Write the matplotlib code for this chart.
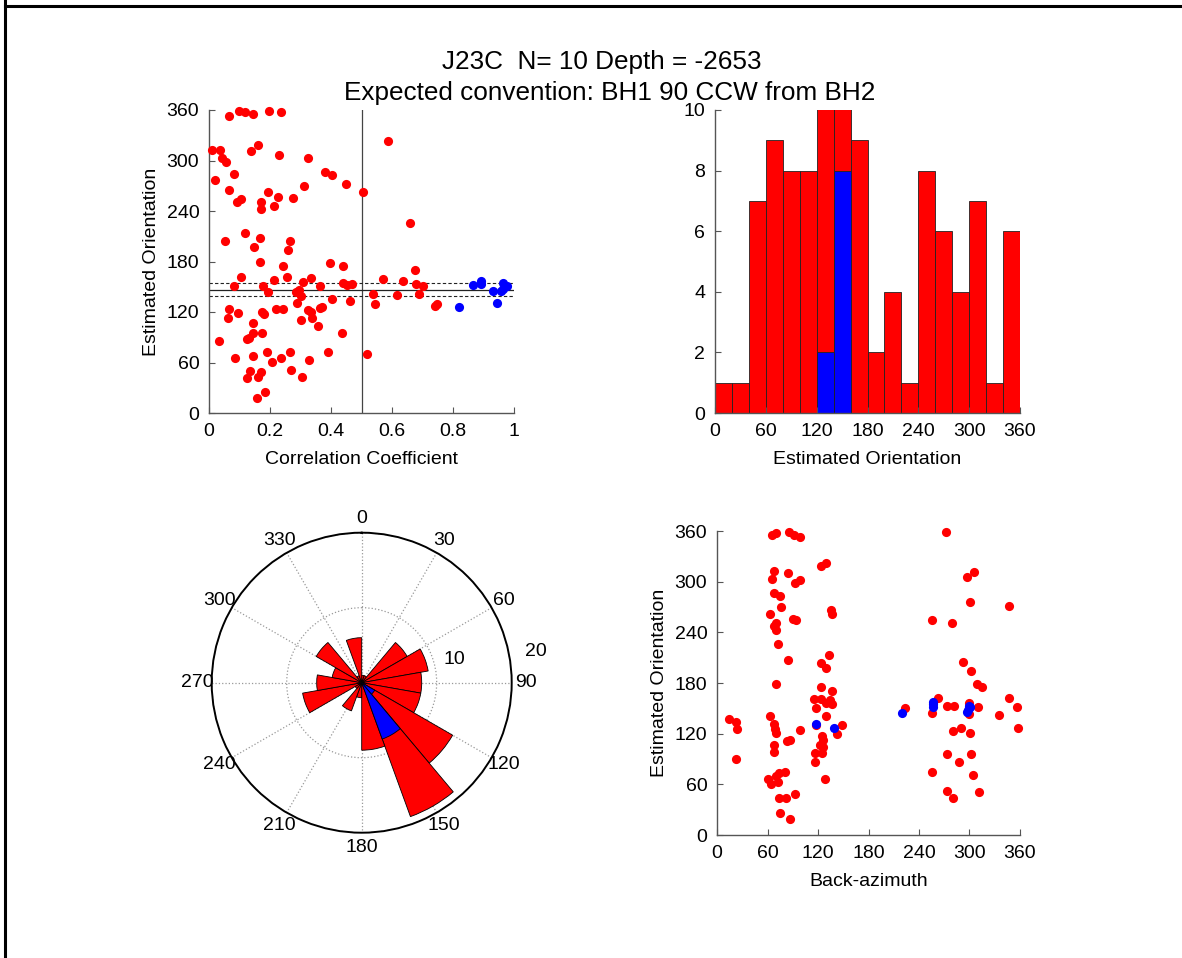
import numpy as np
import matplotlib
matplotlib.use("Agg")
import matplotlib.pyplot as plt
from matplotlib.lines import Line2D

plt.rcParams['font.family'] = ['Liberation Sans', 'DejaVu Sans']

# --- data ---
# top-left: correlation coefficient vs estimated orientation
cc_red = [0.064, 0.099, 0.118, 0.143, 0.197, 0.237,
          0.011, 0.036, 0.044, 0.057, 0.162, 0.139, 0.228, 0.326,
          0.082, 0.020, 0.064, 0.380, 0.404, 0.450, 0.3125, 0.195, 0.227, 0.277, 0.504,
          0.091, 0.104, 0.171, 0.171, 0.214,
          0.587, 0.658,
          0.118, 0.053, 0.168, 0.266, 0.146, 0.259,
          0.168, 0.397, 0.439, 0.243, 0.674,
          0.105, 0.214, 0.255, 0.336, 0.570, 0.636, 0.307, 0.439, 0.469, 0.452,
          0.364, 0.178, 0.083, 0.680, 0.702,
          0.296, 0.285, 0.193, 0.537, 0.616, 0.689, 0.302, 0.404, 0.461, 0.543,
          0.289, 0.740, 0.748,
          0.064, 0.221, 0.241, 0.323, 0.336, 0.173, 0.181, 0.094, 0.0625, 0.303,
          0.338, 0.363, 0.371,
          0.143, 0.359, 0.435, 0.145, 0.173, 0.132, 0.123, 0.033,
          0.265, 0.391, 0.189, 0.145, 0.518, 0.084, 0.237, 0.206, 0.329,
          0.135, 0.125, 0.160, 0.172, 0.269, 0.306, 0.183, 0.159]
or_cc_red = [353.3, 359.2, 357.2, 355.2, 359.2, 358.0,
             312.9, 312.9, 302.6, 298.6, 318.8, 311.7, 306.5, 303.0,
             284.0, 276.8, 265.3, 286.7, 283.2, 271.7, 270.1, 262.2, 257.0, 255.4, 262.2,
             251.1, 254.3, 251.1, 242.4, 245.5,
             322.8, 225.7,
             213.9, 204.0, 207.5, 204.0, 196.8, 194.0,
             179.0, 178.2, 174.3, 174.3, 169.9,
             161.2, 158.4, 161.2, 160.4, 159.2, 156.8, 155.2, 154.0, 153.3, 152.5,
             151.3, 151.3, 150.5, 152.9, 150.5,
             146.1, 143.4, 143.4, 141.8, 140.2, 141.0, 139.4, 135.4, 132.7, 129.9,
             130.7, 126.7, 129.5,
             123.6, 123.6, 123.6, 122.4, 119.6, 120.4, 117.2, 118.8, 112.5, 110.5,
             112.9, 124.8, 126.3,
             106.5, 103.8, 95.0, 95.0, 95.0, 88.7, 87.9, 85.1,
             72.9, 72.9, 72.9, 68.1, 70.1, 65.0, 65.0, 60.2, 63.0,
             49.9, 42.0, 43.2, 48.3, 51.5, 43.2, 25.3, 17.4]
cc_blue = [0.819, 0.866, 0.893, 0.893, 0.932, 0.945, 0.959, 0.965, 0.965, 0.978]
or_cc_blue = [125.9, 152.1, 156.4, 153.3, 144.6, 130.7, 144.6, 154.5, 147.3, 151.3]

# reference lines in the top-left panel
split_cc = 0.5
mean_orient = 146.5
orient_band = [139.0, 154.1]

# bottom-right: back-azimuth vs estimated orientation
baz_red = [14.3, 23.0, 23.8, 23.0,
           65.4, 70.6, 85.6, 91.2, 98.3, 67.8, 65.8, 84.5, 67.8, 75.3, 76.5, 92.8, 99.1,
           62.6, 69.8, 67.4, 70.6, 90.4, 94.4, 73.0, 84.5, 69.8, 62.6, 67.4, 68.6, 69.8,
           68.2, 68.2, 83.7, 87.2, 98.3, 60.7, 64.7, 73.0, 69.8, 73.8, 80.5, 73.8, 81.7,
           92.8, 74.5, 86.4,
           124.1, 130.0, 136.0, 137.2, 123.3, 132.8, 130.0, 123.3, 137.2, 115.0, 117.4,
           124.1, 130.0, 134.0, 136.8, 129.3, 118.2, 125.3, 126.1, 122.1, 126.1, 116.2,
           125.3, 116.2, 128.5, 142.0, 148.7,
           223.7, 255.4, 262.9, 255.0, 278.7, 272.0, 273.6, 281.9, 279.9, 289.4, 273.6,
           287.9, 255.4, 272.8, 280.7, 292.6, 301.3, 296.6, 305.7, 300.6, 308.5, 314.4,
           299.4, 299.4, 300.6, 301.7, 303.7, 311.7, 310.5, 335.0, 346.6, 346.6, 356.9, 358.0]
or_baz_red = [136.8, 134.1, 125.0, 89.5,
              355.7, 357.6, 358.8, 354.9, 352.9, 312.7, 302.8, 310.7, 286.7, 282.7, 270.1,
              298.5, 302.4,
              262.2, 251.2, 247.2, 243.3, 256.3, 254.3, 225.9, 207.8, 179.4, 141.2, 131.3,
              125.0, 121.1,
              106.5, 98.6, 111.2, 112.4, 123.8, 65.9, 60.3, 63.1, 70.2, 73.7, 74.5, 43.4, 43.4,
              48.5, 26.4, 18.5,
              318.6, 322.6, 267.0, 262.2, 203.9, 213.7, 197.2, 174.7, 170.3, 160.9, 150.6,
              160.5, 155.8, 159.7, 154.6, 140.8, 130.1, 117.1, 112.4, 106.1, 103.7, 96.6,
              96.6, 86.0, 66.6, 119.5, 130.1,
              150.2, 143.9, 161.7, 255.1, 251.2, 358.4, 152.6, 152.6, 123.4, 126.2, 95.4,
              86.8, 74.1, 52.1, 44.2, 204.3, 194.4, 305.6, 311.9, 276.0, 178.6, 175.5,
              156.5, 142.7, 121.1, 96.2, 70.6, 50.5, 151.0, 142.4, 270.9, 161.7, 151.8, 126.2]
baz_blue = [118.2, 138.8, 220.1, 256.1, 256.1, 257.0, 300.6, 296.6, 298.0, 299.5]
or_baz_blue = [131.3, 126.2, 144.7, 155.4, 151.8, 157.0, 151.0, 145.9, 148.0, 153.0]

# orientation histogram (20 deg bins); all events and the selected (blue) ones
bin_edges = np.arange(0, 361, 20)
all_counts = [1, 1, 7, 9, 8, 8, 14, 19, 9, 2, 4, 1, 8, 6, 4, 7, 1, 6]
sel_counts = [0, 0, 0, 0, 0, 0, 2, 8, 0, 0, 0, 0, 0, 0, 0, 0, 0, 0]

title_lines = ["J23C  N= 10 Depth = -2653", "Expected convention: BH1 90 CCW from BH2"]

RED = '#ff0000'
BLUE = '#0000ff'
AXC = '#555555'
W, H = 1182, 958
TICK_FS = 14
LABEL_FS = 14
MS = 6.6


def px_axes(fig, x0, y0, x1, y1, **kw):
    # pixel box (top-left origin) -> figure fraction
    return fig.add_axes([x0 / W, 1 - y1 / H, (x1 - x0) / W, (y1 - y0) / H], **kw)


def style_cart(ax):
    for s in ['top', 'right']:
        ax.spines[s].set_visible(False)
    for s in ['left', 'bottom']:
        ax.spines[s].set_color(AXC)
        ax.spines[s].set_linewidth(1.0)
    ax.tick_params(direction='in', length=4, color=AXC, labelsize=TICK_FS, pad=7)


fig = plt.figure(figsize=(W / 100, H / 100), dpi=100)

# ---- top-left: correlation vs orientation ----
ax1 = px_axes(fig, 209, 110, 514, 413)
ax1.plot(cc_red, or_cc_red, 'o', color=RED, ms=MS, mec='none', zorder=3, clip_on=False)
ax1.plot(cc_blue, or_cc_blue, 'o', color=BLUE, ms=MS, mec='none', zorder=3, clip_on=False)
ax1.axvline(split_cc, color='#444444', lw=0.9, zorder=2)
ax1.axhline(mean_orient, color='#222222', lw=0.9, zorder=2)
for v in orient_band:
    ax1.axhline(v, color='#222222', lw=0.8, ls='--', dashes=(3, 2), zorder=2)
ax1.set_xlim(0, 1)
ax1.set_ylim(0, 360)
ax1.set_xticks([0, 0.2, 0.4, 0.6, 0.8, 1])
ax1.set_xticklabels(['0', '0.2', '0.4', '0.6', '0.8', '1'])
ax1.set_yticks(np.arange(0, 361, 60))
ax1.set_xlabel('Correlation Coefficient', fontsize=LABEL_FS, labelpad=8)
ax1.set_ylabel('Estimated Orientation', fontsize=LABEL_FS, labelpad=5)
style_cart(ax1)

# ---- top-right: histogram ----
ax2 = px_axes(fig, 715, 110, 1020, 413)
ax2.bar(bin_edges[:-1], all_counts, width=20, align='edge', color=RED,
        edgecolor='#222222', lw=0.6)
ax2.bar(bin_edges[:-1], sel_counts, width=20, align='edge', color=BLUE,
        edgecolor='#222222', lw=0.6)
ax2.set_xlim(0, 360)
ax2.set_ylim(0, 10)
ax2.set_xticks(np.arange(0, 361, 60))
ax2.set_yticks(np.arange(0, 11, 2))
ax2.set_xlabel('Estimated Orientation', fontsize=LABEL_FS, labelpad=8)
style_cart(ax2)

# ---- bottom-left: rose diagram ----
cx, cy, R = 361.7, 682.7, 150
ax3 = px_axes(fig, cx - R, cy - R, cx + R, cy + R, projection='polar')
ax3.set_theta_zero_location('N')
ax3.set_theta_direction(-1)
theta = np.deg2rad(bin_edges[:-1])
ax3.bar(theta, all_counts, width=np.deg2rad(20), align='edge', color=RED,
        edgecolor='black', lw=0.6, zorder=3)
ax3.bar(theta, sel_counts, width=np.deg2rad(20), align='edge', color=BLUE,
        edgecolor='black', lw=0.6, zorder=3)
ax3.set_ylim(0, 20)
ax3.set_yticks([10, 20])
ax3.set_yticklabels([])
ax3.set_xticks(np.deg2rad(np.arange(0, 360, 30)))
ax3.set_xticklabels([str(a) for a in range(0, 360, 30)], fontsize=TICK_FS)
ax3.tick_params(axis='x', pad=0)
ax3.grid(True, color='#999999', ls=':', lw=0.9)
ax3.spines['polar'].set_color('black')
ax3.spines['polar'].set_linewidth(1.4)
ax3.text(np.deg2rad(76), 12.7, '10', fontsize=TICK_FS, ha='center', va='center')
ax3.text(np.deg2rad(80), 23.6, '20', fontsize=TICK_FS, ha='center', va='center')

# ---- bottom-right: back-azimuth vs orientation ----
ax4 = px_axes(fig, 717, 531, 1020, 835)
ax4.plot(baz_red, or_baz_red, 'o', color=RED, ms=MS, mec='none', zorder=3, clip_on=False)
ax4.plot(baz_blue, or_baz_blue, 'o', color=BLUE, ms=MS, mec='none', zorder=3, clip_on=False)
ax4.set_xlim(0, 360)
ax4.set_ylim(0, 360)
ax4.set_xticks(np.arange(0, 361, 60))
ax4.set_yticks(np.arange(0, 361, 60))
ax4.set_xlabel('Back-azimuth', fontsize=LABEL_FS, labelpad=8)
ax4.set_ylabel('Estimated Orientation', fontsize=LABEL_FS, labelpad=5)
style_cart(ax4)

# ---- titles and frame ----
fig.text(602 / W, 1 - 62 / H, title_lines[0], fontsize=18.8, ha='center', va='center')
fig.text(610 / W, 1 - 93 / H, title_lines[1], fontsize=18.8, ha='center', va='center')
fig.add_artist(Line2D([5 / W, 1], [1 - 6 / H, 1 - 6 / H], color='black', lw=2.2))
fig.add_artist(Line2D([5 / W, 5 / W], [0, 1], color='black', lw=2.2))

fig.savefig('out.png', dpi=100)
